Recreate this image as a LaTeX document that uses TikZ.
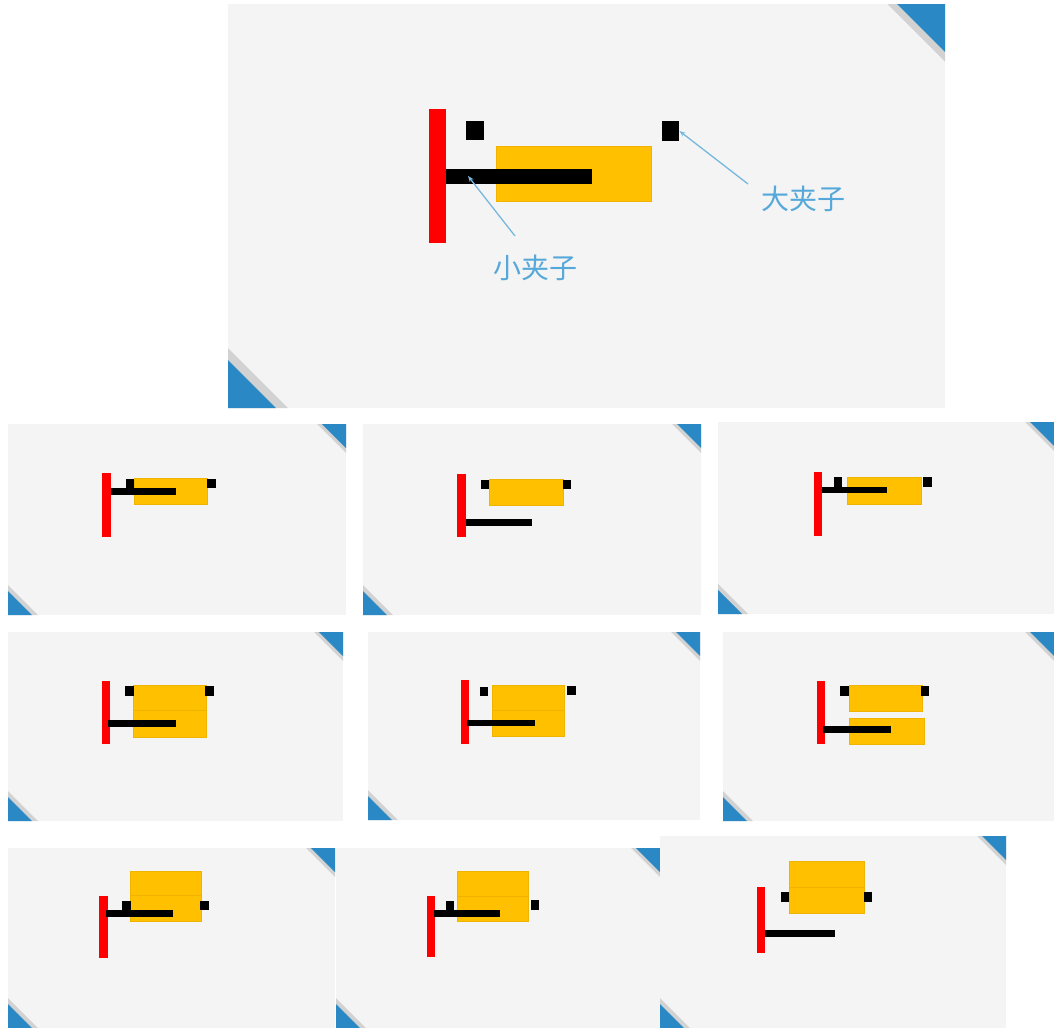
\documentclass[tikz,border=0pt]{standalone}
\usepackage{fontspec}
\newfontfamily\cjk{Noto Sans CJK SC}
\definecolor{slidebg}{HTML}{F4F4F4}
\definecolor{cornerblue}{HTML}{2A88C4}
\definecolor{bevelgrey}{HTML}{D2D2D2}
\definecolor{clampred}{HTML}{FF0000}
\definecolor{boxyellow}{HTML}{FFC000}
\definecolor{boxedge}{HTML}{EFB300}
\definecolor{labelblue}{HTML}{55A8DA}
\definecolor{leaderblue}{HTML}{78B8DE}
\usetikzlibrary{arrows.meta}
\tikzset{
  slidefill/.style={fill=slidebg},
  bluecorner/.style={fill=cornerblue},
  bevel/.style={fill=bevelgrey},
  redbar/.style={fill=clampred},
  blackpart/.style={fill=black},
  yellowbox/.style={fill=boxyellow, draw=boxedge, line width=0.4pt},
  leader/.style={draw=leaderblue, line width=1pt, -{Stealth[length=4.5pt,width=3.5pt]}},
  labeltext/.style={text=labelblue, font=\cjk\fontsize{21}{21}\selectfont, inner sep=0pt}
}
% slide: x1 y1 x2 y2 cornersize
\newcommand\myslide[5]{%
  \pgfmathsetmacro\mysA{#3-#5}%
  \pgfmathsetmacro\mysB{#3-1.2*#5}%
  \pgfmathsetmacro\mysC{#2+#5}%
  \pgfmathsetmacro\mysD{#2+1.2*#5}%
  \pgfmathsetmacro\mysE{#4-#5}%
  \pgfmathsetmacro\mysF{#4-1.25*#5}%
  \pgfmathsetmacro\mysG{#1+#5}%
  \pgfmathsetmacro\mysH{#1+1.25*#5}%
  \fill[slidefill] (#1,#2) rectangle (#3,#4);
  \fill[bevel] (\mysB,#2) -- (#3,#2) -- (#3,\mysD) -- cycle;
  \fill[bluecorner] (\mysA,#2) -- (#3,#2) -- (#3,\mysC) -- cycle;
  \fill[bevel] (#1,\mysF) -- (#1,#4) -- (\mysH,#4) -- cycle;
  \fill[bluecorner] (#1,\mysE) -- (#1,#4) -- (\mysG,#4) -- cycle;
}
\begin{document}
\begin{tikzpicture}[x=0.75pt,y=-0.75pt]
\useasboundingbox (0,0) rectangle (1054,1028);
\fill[white] (0,0) rectangle (1054,1028);

% ---------- top slide ----------
\myslide{228}{4}{945}{408}{48}
\fill[redbar] (429,109) rectangle (446,243);
\fill[blackpart] (466,121) rectangle (484,140);
\fill[yellowbox] (496,146) rectangle (651,201);
\fill[blackpart] (446,169) rectangle (592,184);
\node[draw=none, fill=black, minimum width=13pt, minimum height=14.5pt, inner sep=0pt] (bigclamp) at (670.5,131) {};
\coordinate (smallclamp) at (468,176);
\node[labeltext] (smalllabel) at (535,268) {小夹子};
\node[labeltext] (biglabel) at (803,199) {大夹子};
\coordinate (smallend) at (515,236);
\coordinate (bigend) at (748,184);
\draw[leader] (smallend) -- (smallclamp);
\draw[leader] (bigend) -- (bigclamp.east);

% ---------- row 1 ----------
\myslide{8}{424}{346}{615}{24}
\fill[redbar] (102,473) rectangle (111,537);
\fill[yellowbox] (134,478) rectangle (207,504);
\fill[blackpart] (126,479) rectangle (134,488);
\fill[blackpart] (207,479) rectangle (216,488);
\fill[blackpart] (111,488) rectangle (176,495);

\myslide{363}{424}{701}{615}{24}
\fill[redbar] (457,474) rectangle (466,537);
\fill[yellowbox] (489,479) rectangle (563,505);
\fill[blackpart] (481,480) rectangle (489,489);
\fill[blackpart] (563,480) rectangle (571,489);
\fill[blackpart] (466,519) rectangle (532,526);

\myslide{718}{422}{1054}{614}{24}
\fill[redbar] (814,472) rectangle (822,536);
\fill[yellowbox] (847,477) rectangle (921,504);
\fill[blackpart] (834,477) rectangle (842,487);
\fill[blackpart] (923,477) rectangle (932,487);
\fill[blackpart] (822,487) rectangle (887,493);

% ---------- row 2 ----------
\myslide{8}{632}{343}{821}{24}
\fill[redbar] (102,681) rectangle (110,744);
\fill[yellowbox] (133,685) rectangle (206,710);
\fill[yellowbox] (133,710) rectangle (206,737);
\fill[blackpart] (125,686) rectangle (134,696);
\fill[blackpart] (205,686) rectangle (214,696);
\fill[blackpart] (108,720) rectangle (176,727);

\myslide{368}{632}{700}{820}{24}
\fill[redbar] (461,680) rectangle (469,744);
\fill[yellowbox] (492,685) rectangle (564,710);
\fill[yellowbox] (492,710) rectangle (564,736);
\fill[blackpart] (480,687) rectangle (488,696);
\fill[blackpart] (567,686) rectangle (576,695);
\fill[blackpart] (467,720) rectangle (535,726);

\myslide{723}{632}{1054}{821}{24}
\fill[redbar] (817,681) rectangle (825,744);
\fill[yellowbox] (849,685) rectangle (922,711);
\fill[yellowbox] (849,718) rectangle (924,744);
\fill[blackpart] (840,686) rectangle (849,696);
\fill[blackpart] (921,686) rectangle (929,696);
\fill[blackpart] (823,726) rectangle (891,733);

% ---------- row 3 ----------
\myslide{8}{848}{335}{1028}{24}
\fill[redbar] (99,896) rectangle (108,958);
\fill[yellowbox] (130,871) rectangle (201,895);
\fill[yellowbox] (130,895) rectangle (201,921);
\fill[blackpart] (122,901) rectangle (131,910);
\fill[blackpart] (200,901) rectangle (209,910);
\fill[blackpart] (106,910) rectangle (173,917);

\myslide{336}{848}{660}{1028}{24}
\fill[redbar] (427,896) rectangle (435,957);
\fill[yellowbox] (457,871) rectangle (528,896);
\fill[yellowbox] (457,896) rectangle (528,921);
\fill[blackpart] (446,901) rectangle (454,910);
\fill[blackpart] (531,900) rectangle (539,910);
\fill[blackpart] (434,910) rectangle (500,917);

\myslide{660}{836}{1006}{1028}{24}
\fill[redbar] (757,887) rectangle (765,953);
\fill[yellowbox] (789,861) rectangle (864,887);
\fill[yellowbox] (789,887) rectangle (864,913);
\fill[blackpart] (781,892) rectangle (789,902);
\fill[blackpart] (864,892) rectangle (872,902);
\fill[blackpart] (765,930) rectangle (835,937);
\end{tikzpicture}
\end{document}
